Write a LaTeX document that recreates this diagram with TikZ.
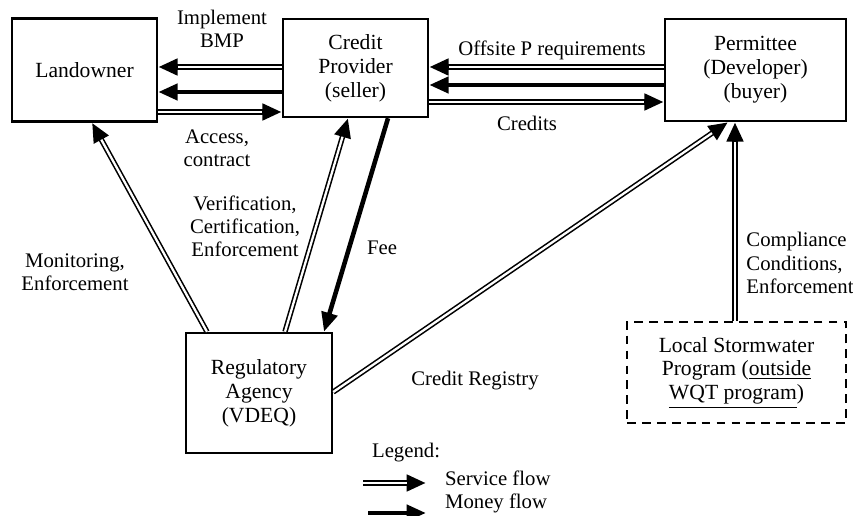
\documentclass[tikz,border=0pt]{standalone}
\usepackage{fontspec}
\setmainfont{Liberation Serif}
\usetikzlibrary{arrows.meta}

\tikzset{
	box/.style={draw,line width=1.4pt,align=center,inner sep=2pt,font=\fontsize{12.3}{13.6}\selectfont},
	lbl/.style={align=center,inner sep=1pt,font=\fontsize{11.8}{13.2}\selectfont},
	% two thin rails: a thick black stroke with a white core, solid head
	service/.style={line width=3.1pt,-{Triangle[length=11pt,width=9pt]},
		postaction={draw=white,line width=1.3pt,shorten >=11pt,-}},
	money/.style={line width=2.6pt,-{Triangle[length=11pt,width=9pt]}}
}

\begin{document}
\begin{tikzpicture}[x=0.02cm,y=-0.02cm]
			\useasboundingbox (0,0) rectangle (853,516);
			% actors
			\node[box,minimum width=2.9cm,minimum height=2.06cm] (land) at (84.5,70) {Landowner};
			\node[box,minimum width=2.9cm,minimum height=1.96cm] (cp) at (355.5,68) {Credit\\Provider\\(seller)};
			\node[box,minimum width=3.62cm,minimum height=2.04cm] (perm) at (755.5,70) {Permittee\\(Developer)\\(buyer)};
			\node[box,minimum width=2.92cm,minimum height=2.4cm] (reg) at (259,393) {Regulatory\\Agency\\(VDEQ)};
			\node[box,dash pattern=on 5pt off 3.5pt,minimum width=4.38cm,minimum height=2.02cm] (local) at (736.5,372.5) {Local Stormwater\\Program (\underline{outside}\\\underline{WQT program})};
			
			% flows
			\draw[service] (cp.west |- 0,67) -- (land.east |- 0,67);
			\draw[money] (cp.west |- 0,92) -- (land.east |- 0,92);
			\draw[service] (land.east |- 0,112) -- (cp.west |- 0,112);
			\draw[service] (perm.west |- 0,67) -- (cp.east |- 0,67);
			\draw[money] (perm.west |- 0,85) -- (cp.east |- 0,85);
			\draw[service] (cp.east |- 0,102) -- (perm.west |- 0,102);
			\draw[service] (reg.north -| 207,0) -- (land.south -| 92,0);
			\draw[service] (reg.north -| 285,0) -- (cp.south -| 348,0);
			\draw[money] (cp.south -| 388,0) -- (reg.north -| 324,0);
			\draw[service] (reg.east |- 0,392) -- (perm.south -| 728,0);
			\draw[service] (local.north -| 735,0) -- (perm.south -| 735,0);
			
			% labels
			\node[lbl] (implement) at (222,29) {Implement\\BMP};
			\node[lbl] (access) at (217,148) {Access,\\contract};
			\node[lbl] (offsite) at (552,50) {Offsite P requirements};
			\node[lbl] (credits) at (527,123) {Credits};
			\node[lbl] (monitor) at (75,272) {Monitoring,\\Enforcement};
			\node[lbl] (verif) at (245,226) {Verification,\\Certification,\\Enforcement};
			\node[lbl] (fee) at (382,248) {Fee};
			\node[lbl] (registry) at (475,381) {Credit Registry};
			\node[lbl,align=left] (compliance) at (800,263) {Compliance\\Conditions,\\Enforcement};
			
			% legend
			\node[lbl,anchor=west] (legend) at (370,453) {Legend:};
			\node[lbl,anchor=west] (svctext) at (443,478) {Service flow};
			\node[lbl,anchor=west] (montext) at (443,503) {Money flow};
			\coordinate (svcfrom) at (363,483);
			\coordinate (svcto) at (426,483);
			\coordinate (monfrom) at (368,513);
			\coordinate (monto) at (426,513);
			\draw[service] (svcfrom) -- (svcto);
			\draw[money] (monfrom) -- (monto);
\end{tikzpicture}
\end{document}
